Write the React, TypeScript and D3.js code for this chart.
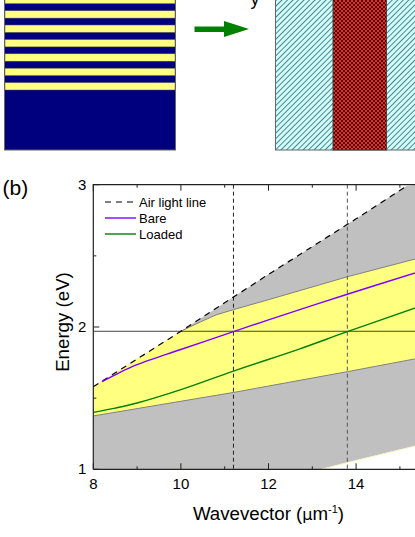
import * as d3 from "d3";

const WIDTH = 415;
const HEIGHT = 537;

// panel (b) values
const xTicks = [8, 10, 12, 14];
const xMinorTicks = [9, 11, 13, 15];
const yTicks = [1, 2, 3];
const yMinorTicks = [1.5, 2.5];

type Pt = [number, number];

const airLine: Pt[] = [[8, 1.58], [10, 1.97], [12, 2.37], [14, 2.76], [15.15, 2.99]];
const gapTop: Pt[] = [[10, 1.97], [10.2, 2.0], [10.44, 2.035], [10.8, 2.085], [11.2, 2.122], [12, 2.192], [13.8, 2.353], [15.5, 2.49]];
const gapBottom: Pt[] = [[8, 1.375], [10, 1.478], [11.2, 1.54], [12, 1.585], [13.8, 1.686], [15.5, 1.785]];
const floorLine: Pt[] = [[13.2, 1], [13.8, 1.047], [15.5, 1.175]];
const bare: Pt[] = [[8.2, 1.616], [8.6, 1.68], [9, 1.735], [9.98, 1.84], [11.2, 1.967], [12, 2.05], [13.8, 2.23], [15.5, 2.395]];
const loaded: Pt[] = [[8, 1.4], [8.5, 1.43], [9, 1.466], [10, 1.56], [11.2, 1.69], [12.7, 1.845], [13.8, 1.967], [15.5, 2.15]];

const crossEnergy = 1.97;
const crossK = [11.2, 13.8];

const legendItems = ["Air light line", "Bare", "Loaded"];

// panel (a): top edges of the yellow stripes
const stripeTops = [-3.7, 10.7, 25, 39.5, 53.8, 68.2, 82.6];

const x = d3.scaleLinear().domain([8, 15.5]).range([93.3, 421.8]);
const y = d3.scaleLinear().domain([1, 3]).range([469.3, 184.7]);

const line = d3.line<Pt>().x((d) => x(d[0])).y((d) => y(d[1]));
const smooth = d3.line<Pt>().x((d) => x(d[0])).y((d) => y(d[1])).curve(d3.curveCatmullRom);

const polygon = (pts: Pt[]) => (line(pts) as string) + "Z";

const grayPoints: Pt[] = [
  ...airLine,
  [15.5, 3],
  ...[...floorLine].reverse(),
  [8, 1],
];
const yellowPoints: Pt[] = [
  ...airLine.slice(0, 1),
  ...gapTop,
  ...[...gapBottom].reverse(),
];

export default function App() {
  return (
    <svg
      width={WIDTH}
      height={HEIGHT}
      style={{ position: "absolute", left: 0, top: 0, background: "#fff" }}
      fontFamily="'Liberation Sans', Arial, sans-serif"
    >
      <defs>
        <pattern id="hatch" width="3.9" height="3.9" patternUnits="userSpaceOnUse" patternTransform="rotate(45)">
          <rect width="3.9" height="3.9" fill="#ccffff" />
          <rect width="0.8" height="3.9" fill="#3f6060" />
        </pattern>
        <pattern id="check" x="333" width="4" height="4" patternUnits="userSpaceOnUse">
          <rect width="4" height="4" fill="#f8261e" />
          <rect width="2" height="2" fill="#3a0a08" />
          <rect x="2" y="2" width="2" height="2" fill="#3a0a08" />
        </pattern>
      </defs>

      {/* panel (a) */}
      <rect x={4.5} y={-2} width={171} height={152} fill="#00007f" stroke="#666" strokeWidth={1} />
      {stripeTops.map((t) => (
        <rect key={t} x={5} y={t} width={170} height={7.4} fill="#ffff80" stroke="#555" strokeWidth={0.5} />
      ))}
      <rect x={194.5} y={26.5} width={30} height={5.5} fill="#008000" />
      <path d={d3.line()([[224, 21], [249, 29], [224, 37]]) + "Z"} fill="#008000" />
      <text x={250.5} y={4.5} fontSize={18}>y</text>
      <rect x={275.5} y={-2} width={150} height={152} fill="url(#hatch)" stroke="#666" strokeWidth={1} />
      <rect x={333} y={-2} width={53.5} height={152} fill="url(#check)" stroke="#444" strokeWidth={1} />

      {/* panel (b) */}
      <text x={2.5} y={195} fontSize={21}>(b)</text>

      <path d={polygon(grayPoints)} fill="#c0c0c0" />
      <path d={polygon(yellowPoints)} fill="#ffff80" />
      <path d={line(gapTop) as string} fill="none" stroke="#808080" strokeWidth={1} />
      <path d={line(gapBottom) as string} fill="none" stroke="#808080" strokeWidth={1} />
      <path d={line(floorLine) as string} fill="none" stroke="#f5f5c0" strokeWidth={1} />

      <line x1={x(8)} x2={WIDTH} y1={y(crossEnergy)} y2={y(crossEnergy)} stroke="#444" strokeWidth={1} />
      {crossK.map((k, i) => (
        <line
          key={k}
          x1={x(k)}
          x2={x(k)}
          y1={y(3)}
          y2={y(1)}
          stroke={i === 0 ? "#222" : "#555"}
          strokeWidth={1}
          strokeDasharray="4 3"
        />
      ))}

      <path d={line(airLine) as string} fill="none" stroke="#000" strokeWidth={1.2} strokeDasharray="6 5" />
      <path d={smooth(bare) as string} fill="none" stroke="#8000ff" strokeWidth={1.4} />
      <path d={smooth(loaded) as string} fill="none" stroke="#008000" strokeWidth={1.4} />

      {/* axes */}
      <g stroke="#222" strokeWidth={1} fill="none">
        <path d={`M${x(8)},${y(1)}V${y(3)}H${WIDTH}M${x(8)},${y(1)}H${WIDTH}`} strokeWidth={1.2} />
        {xTicks.map((t) => (
          <path key={t} d={`M${x(t)},${y(1)}v-6M${x(t)},${y(3)}v6`} />
        ))}
        {xMinorTicks.map((t) => (
          <path key={t} d={`M${x(t)},${y(1)}v-3M${x(t)},${y(3)}v3`} />
        ))}
        {yTicks.map((t) => (
          <path key={t} d={`M${x(8)},${y(t)}h6`} />
        ))}
        {yMinorTicks.map((t) => (
          <path key={t} d={`M${x(8)},${y(t)}h3`} />
        ))}
      </g>
      <g fontSize={15} fill="#000">
        {xTicks.map((t) => (
          <text key={t} x={x(t)} y={489} textAnchor="middle">{t}</text>
        ))}
        {yTicks.map((t) => (
          <text key={t} x={x(8) - 7} y={y(t) + 5} textAnchor="end">{t}</text>
        ))}
      </g>

      {/* legend */}
      {legendItems.map((name, i) => (
        <g key={name}>
          <line
            x1={105}
            x2={136}
            y1={202 + i * 16}
            y2={202 + i * 16}
            stroke={["#000", "#8000ff", "#008000"][i]}
            strokeWidth={i === 0 ? 1.2 : 1.4}
            strokeDasharray={i === 0 ? "6 5" : undefined}
          />
          <text x={139} y={206.5 + i * 16} fontSize={13}>{name}</text>
        </g>
      ))}

      <text x={268.5} y={520} fontSize={18.7} textAnchor="middle">
        Wavevector (<tspan fontFamily="'DejaVu Sans', sans-serif" fontSize={16}>μ</tspan>m
        <tspan fontSize={11} dy={-7}>-1</tspan>
        <tspan dy={7}>)</tspan>
      </text>
      <text transform="translate(69,322) rotate(-90)" fontSize={18.7} textAnchor="middle">Energy (eV)</text>
    </svg>
  );
}
